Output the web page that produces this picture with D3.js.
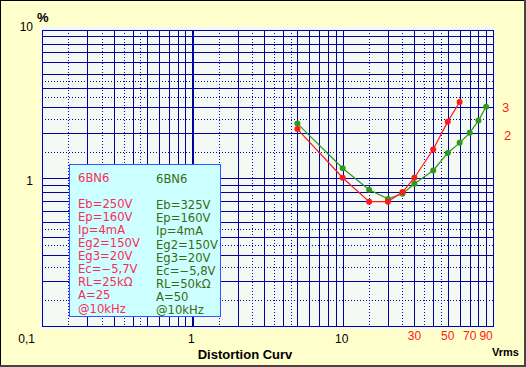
<!DOCTYPE html>
<html>
<head>
<meta charset="utf-8">
<script src="https://cdnjs.cloudflare.com/ajax/libs/d3/7.8.5/d3.min.js"></script>
<style>
  body { margin: 0; padding: 0; background: #fff; }
  svg { display: block; }
</style>
</head>
<body>
<div id="canvas"></div>
<script>
// chart size
var width = 526;
var height = 367;

// distortion data (Vrms, %)
var redVrms   = [5, 10, 15, 20, 25, 30, 40, 50, 60];
var redDist   = [2.13, 1.0, 0.69, 0.69, 0.80, 1.0, 1.55, 2.39, 3.24];
var greenVrms = [5, 10, 15, 20, 25, 30, 40, 50, 60, 70, 80, 90];
var greenDist = [2.32, 1.16, 0.83, 0.72, 0.78, 0.91, 1.12, 1.47, 1.72, 2.01, 2.43, 3.01];

// tick labels
var xTicksBlack = [1, 10];
var xTicksRed   = [30, 50, 70, 90];
var yTicks      = [["10", 10], ["1", 1]];

// grid multiples inside a decade
var solidMults  = [2, 3, 4, 5, 6, 7, 8, 9];
var dottedMults = [1.5, 2.5, 3.5, 4.5];

// legend text
var legendLeft  = ["6BN6", "", "Eb=250V", "Ep=160V", "Ip=4mA", "Eg2=150V", "Eg3=20V", "Ec=\u22125,7V", "RL=25k\u03A9", "A=25", "@10kHz"];
var legendRight = ["6BN6", "", "Eb=325V", "Ep=160V", "Ip=4mA", "Eg2=150V", "Eg3=20V", "Ec=\u22125,8V", "RL=50k\u03A9", "A=50", "@10kHz"];

var x = d3.scaleLog().domain([0.1, 100]).range([42, 493]);
var y = d3.scaleLog().domain([0.1, 10]).range([326, 29.5]);

var svg = d3.select('#canvas')
  .append("svg")
  .attr("width", width)
  .attr("height", height);

// outer background + frame
svg.append("rect").attr("width", width).attr("height", height).attr("fill", "#ffffcc");
svg.append("rect")
  .attr("x", 0.5).attr("y", 0.5)
  .attr("width", width - 2).attr("height", height - 2)
  .attr("fill", "none").attr("stroke", "#000").attr("stroke-width", 1);
svg.append("line").attr("x1", 0).attr("x2", width).attr("y1", height - 1).attr("y2", height - 1)
  .attr("stroke", "#444").attr("stroke-width", 2);
svg.append("line").attr("x1", width - 1).attr("x2", width - 1).attr("y1", 0).attr("y2", height)
  .attr("stroke", "#444").attr("stroke-width", 2);

// plot background
svg.append("rect")
  .attr("x", 40).attr("y", 26)
  .attr("width", 455).attr("height", 303)
  .attr("fill", "#f5f9f3");

// build grid values from decades
var decadesX = [0.1, 1, 10];
var decadesY = [0.1, 1];
var xSolid = [], xDot = [], ySolid = [], yDot = [];
decadesX.forEach(d => {
  solidMults.forEach(m => xSolid.push(d * m));
  dottedMults.forEach(m => xDot.push(d * m));
});
decadesY.forEach(d => {
  solidMults.forEach(m => ySolid.push(d * m));
  dottedMults.forEach(m => yDot.push(d * m));
});
xSolid.push(0.1, 10, 100);
ySolid.push(0.1, 1, 10);

var px = v => Math.round(x(v)) + 0.5;
var py = v => Math.round(y(v)) + 0.5;

var grid = svg.append("g").attr("shape-rendering", "crispEdges");

// dotted lines
grid.selectAll(".vdot").data(xDot).enter().append("line")
  .attr("x1", px).attr("x2", px)
  .attr("y1", y(10)).attr("y2", y(0.1))
  .attr("stroke", "#0000ee").attr("stroke-width", 1)
  .attr("stroke-dasharray", "1,2");
grid.selectAll(".hdot").data(yDot).enter().append("line")
  .attr("y1", py).attr("y2", py)
  .attr("x1", x(0.1)).attr("x2", x(100))
  .attr("stroke", "#00009a").attr("stroke-width", 1)
  .attr("stroke-dasharray", "1,2");

// solid lines
grid.selectAll(".hsol").data(ySolid).enter().append("line")
  .attr("y1", py).attr("y2", py)
  .attr("x1", x(0.1)).attr("x2", x(100) + 1)
  .attr("stroke", "#0000a0").attr("stroke-width", 1);
grid.selectAll(".vsol").data(xSolid).enter().append("line")
  .attr("x1", px).attr("x2", px)
  .attr("y1", y(10)).attr("y2", y(0.1) + 1)
  .attr("stroke", "#0000a0").attr("stroke-width", 1);

// heavy line at 1 Vrms
grid.append("line")
  .attr("x1", Math.round(x(1)) + 1).attr("x2", Math.round(x(1)) + 1)
  .attr("y1", y(10)).attr("y2", y(0.1) + 1)
  .attr("stroke", "#0000a0").attr("stroke-width", 2);

// legend box
var lg = svg.append("g");
lg.append("rect")
  .attr("x", 69.5).attr("y", 164.5)
  .attr("width", 151).attr("height", 152)
  .attr("fill", "#ccffff").attr("stroke", "#3355ff").attr("stroke-width", 1);

lg.selectAll(".ll").data(legendLeft).enter().append("text")
  .attr("x", 78)
  .attr("y", (d, i) => 181.5 + i * 13.1)
  .attr("fill", "#ff2a55")
  .style("font-family", "DejaVu Sans, sans-serif")
  .style("font-size", "11.6px")
  .text(d => d);

lg.selectAll(".lr").data(legendRight).enter().append("text")
  .attr("x", 156)
  .attr("y", (d, i) => 183 + i * 13.1)
  .attr("fill", "#3a6a10")
  .style("font-family", "DejaVu Sans, sans-serif")
  .style("font-size", "11.6px")
  .text(d => d);

// series
var line = d3.line().x(d => x(d[0])).y(d => y(d[1]));
var redData = redVrms.map((v, i) => [v, redDist[i]]);
var greenData = greenVrms.map((v, i) => [v, greenDist[i]]);

function drawSeries(data, color) {
  svg.append("path")
    .datum(data)
    .attr("d", line)
    .attr("fill", "none")
    .attr("stroke", color)
    .attr("stroke-width", 1.2);
  svg.selectAll(null)
    .data(data)
    .enter()
    .append("circle")
    .attr("cx", d => x(d[0]))
    .attr("cy", d => y(d[1]))
    .attr("r", 3)
    .attr("fill", color);
}
drawSeries(greenData, "#2f9a1a");
drawSeries(redData, "#ff1a1a");

// tick labels
var labelFont = "Liberation Sans, Arial, sans-serif";
svg.selectAll(".xb").data(xTicksBlack).enter().append("text")
  .attr("x", d => x(d) - 1)
  .attr("y", 343)
  .attr("text-anchor", "middle")
  .style("font-family", labelFont).style("font-size", "12px")
  .attr("fill", "#000")
  .text(d => d);
svg.selectAll(".xr").data(xTicksRed).enter().append("text")
  .attr("x", d => x(d))
  .attr("y", 340)
  .attr("text-anchor", "middle")
  .style("font-family", labelFont).style("font-size", "12px")
  .attr("fill", "#ff1a1a")
  .text(d => d);
svg.append("text")
  .attr("x", 35).attr("y", 343)
  .attr("text-anchor", "end")
  .style("font-family", labelFont).style("font-size", "12px")
  .text("0,1");
svg.selectAll(".yl").data(yTicks).enter().append("text")
  .attr("x", 33)
  .attr("y", d => y(d[1]) + (d[1] === 10 ? 1.5 : 7))
  .attr("text-anchor", "end")
  .style("font-family", labelFont).style("font-size", "12px")
  .text(d => d[0]);

// unit labels
svg.append("text")
  .attr("x", 37).attr("y", 22)
  .style("font-family", labelFont).style("font-size", "13px").style("font-weight", "bold")
  .text("%");
svg.append("text")
  .attr("x", 492).attr("y", 356)
  .style("font-family", labelFont).style("font-size", "11px").style("font-weight", "bold")
  .text("Vrms");
svg.append("text")
  .attr("x", 245).attr("y", 359)
  .attr("text-anchor", "middle")
  .style("font-family", labelFont).style("font-size", "13px").style("font-weight", "bold")
  .text("Distortion Curv");

// series number labels
svg.append("text")
  .attr("x", 502).attr("y", 111.5)
  .style("font-family", labelFont).style("font-size", "13px")
  .attr("fill", "#ff1a1a")
  .text("3");
svg.append("text")
  .attr("x", 504).attr("y", 140)
  .style("font-family", labelFont).style("font-size", "13px")
  .attr("fill", "#ff1a1a")
  .text("2");
</script>
</body>
</html>
